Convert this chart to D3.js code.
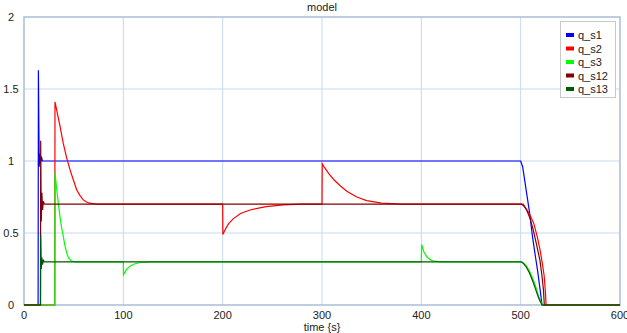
<!DOCTYPE html>
<html>
<head>
<meta charset="utf-8">
<script src="https://cdn.jsdelivr.net/npm/d3@7"></script>
<style>
  body { margin: 0; background: #fff; }
  svg { display: block; font-family: "Liberation Sans", Arial, sans-serif; }
</style>
</head>
<body>
<div id="chart"></div>
<script>
// series values, [time, value]
var q_s1 = [[0,0],[14.2,0],[14.5,1.63],[15.3,0.96],[16,1.05],[16.8,0.99],[17.6,1.03],[18.5,1.0],
  [500,1.0],[502,0.96],[505.5,0.8],[509,0.64],[512,0.47],[515,0.33],[517,0.24],[519.5,0.11],[521.5,0],[600,0]];
var q_s2 = [[0,0],[31,0],[31.2,1.41],[33,1.35],[36.3,1.24],[39.6,1.12],[43,1.02],[46.3,0.94],[49.6,0.87],
  [53,0.8],[56.4,0.76],[59.7,0.73],[63,0.715],[66,0.707],[73,0.70],[100,0.7],[200,0.7],[200.2,0.49],[203,0.53],
  [206,0.565],[210.8,0.6],[218,0.635],[227.6,0.66],[236,0.673],[244,0.683],[261,0.695],[280,0.7],
  [300,0.7],[300.2,0.98],[303,0.95],[307,0.91],[312,0.87],[318,0.83],[325,0.79],[335,0.75],[345,0.725],
  [360,0.708],[380,0.7],[502.5,0.7],[504.5,0.68],[509,0.63],[513,0.57],[516.5,0.48],[519.6,0.38],
  [522,0.28],[523.7,0.2],[525,0.08],[525.6,0],[600,0]];
var q_s3 = [[0,0],[31,0],[31.2,0.92],[33,0.8],[35,0.68],[36.3,0.61],[38,0.53],[39.6,0.475],[41,0.42],
  [43,0.36],[45,0.325],[48,0.305],[52,0.3],[100,0.3],[100.2,0.21],[103,0.245],[106.7,0.27],[111,0.285],
  [117,0.295],[130,0.3],[400,0.3],[400.3,0.42],[402.5,0.37],[405.5,0.335],[409,0.315],[412,0.305],
  [420,0.3],[501,0.3],[503,0.29],[506,0.27],[509.5,0.225],[513,0.17],[516,0.11],[518,0.06],[520.5,0.02],
  [522.5,0],[600,0]];
var q_s12 = [[0,0],[16.6,0],[16.8,1.14],[17.4,0.58],[18,0.78],[18.7,0.66],[19.5,0.72],[20.5,0.7],
  [500.8,0.7],[503,0.69],[506,0.66],[509.5,0.6],[512.7,0.52],[516,0.42],[519.4,0.31],[521.5,0.2],
  [523,0.1],[523.8,0],[600,0]];
var q_s13 = [[0,0],[16.6,0],[16.8,0.49],[17.4,0.25],[18,0.33],[18.7,0.28],[19.5,0.31],[20.5,0.3],
  [500.5,0.3],[502.5,0.29],[505.5,0.265],[509,0.22],[512.5,0.16],[515.5,0.1],[518,0.05],[520,0.02],
  [521.8,0],[600,0]];

var names = ["q_s1", "q_s2", "q_s3", "q_s12", "q_s13"];
var colors = ["#0000ff", "#ff0000", "#00ff00", "#800000", "#005a00"];
var xTicks = [0, 100, 200, 300, 400, 500, 600];
var yTicks = [0, 0.5, 1, 1.5, 2];

function display() {
  var width = 627, height = 333;
  var mLeft = 24, mRight = 620, mTop = 17, mBottom = 305;

  var x = d3.scaleLinear().domain([0, 600]).range([mLeft, mRight]);
  var y = d3.scaleLinear().domain([0, 2]).range([mBottom, mTop]);

  var svg = d3.select("#chart").append("svg")
    .attr("width", width)
    .attr("height", height);

  // grid
  svg.selectAll(".gx").data(xTicks.slice(1, -1)).enter().append("line")
    .attr("x1", d => x(d)).attr("x2", d => x(d))
    .attr("y1", mTop).attr("y2", mBottom)
    .style("stroke", "#c6d8ee").style("stroke-width", 1);
  svg.selectAll(".gy").data(yTicks.slice(1, -1)).enter().append("line")
    .attr("x1", mLeft).attr("x2", mRight)
    .attr("y1", d => y(d)).attr("y2", d => y(d))
    .style("stroke", "#c6d8ee").style("stroke-width", 1);

  // frame
  svg.append("rect")
    .attr("x", mLeft).attr("y", mTop)
    .attr("width", mRight - mLeft).attr("height", mBottom - mTop)
    .style("fill", "none").style("stroke", "#a9bdd6").style("stroke-width", 1.5);

  // tick labels
  svg.selectAll(".xt").data(xTicks).enter().append("text")
    .attr("x", d => x(d)).attr("y", 319)
    .attr("text-anchor", "middle")
    .style("font-size", "11px").style("fill", "#222")
    .text(d => d);
  svg.selectAll(".yt").data(yTicks).enter().append("text")
    .attr("x", 11).attr("y", d => y(d) + 4)
    .attr("text-anchor", "middle")
    .style("font-size", "11px").style("fill", "#222")
    .text(d => d);

  svg.append("text").attr("x", (mLeft + mRight) / 2).attr("y", 11)
    .attr("text-anchor", "middle").style("font-size", "11px").style("fill", "#222")
    .text("model");
  svg.append("text").attr("x", (mLeft + mRight) / 2).attr("y", 331)
    .attr("text-anchor", "middle").style("font-size", "11px").style("fill", "#222")
    .text("time {s}");

  // lines
  svg.append("clipPath").attr("id", "clip").append("rect")
    .attr("x", mLeft).attr("y", mTop - 1).attr("width", mRight - mLeft).attr("height", mBottom - mTop + 2);

  var line = d3.line().x(d => x(d[0])).y(d => y(d[1]));
  var series = [q_s1, q_s2, q_s3, q_s12, q_s13];

  svg.append("g").attr("clip-path", "url(#clip)")
    .selectAll("path").data(series).enter().append("path")
    .attr("d", line)
    .style("fill", "none")
    .style("stroke", (d, i) => colors[i])
    .style("stroke-width", 1.2);

  // legend
  var lg = svg.append("g");
  lg.append("rect")
    .attr("x", 560.5).attr("y", 21.5).attr("width", 55).attr("height", 76)
    .style("fill", "#fff").style("stroke", "#c8c8c8");
  names.forEach(function(n, i) {
    var yy = 35 + i * 13.5;
    lg.append("line")
      .attr("x1", 566).attr("x2", 574).attr("y1", yy).attr("y2", yy)
      .style("stroke", colors[i]).style("stroke-width", 4);
    lg.append("text")
      .attr("x", 578).attr("y", yy + 4)
      .style("font-size", "11px").style("fill", "#222")
      .text(n);
  });
}

display();
</script>
</body>
</html>
